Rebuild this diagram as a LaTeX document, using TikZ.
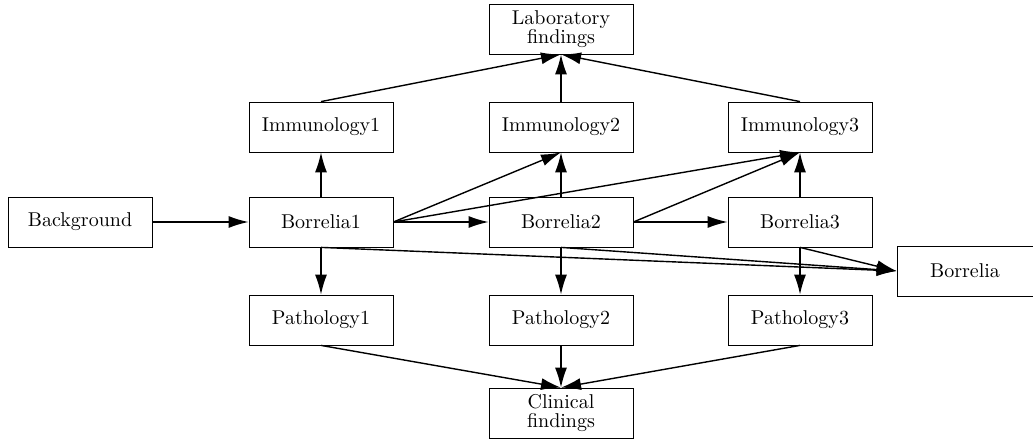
\documentclass[tikz,border=0pt]{standalone}
\usepackage{amsmath}
\usepackage{tikz}
\usetikzlibrary{arrows.meta}

\begin{document}
\begin{tikzpicture}[x=0.5pt, y=-0.5pt,
        box/.style={draw, rectangle, minimum width=72pt, minimum height=25pt, inner sep=0.5pt, align=center, font=\normalsize},
        edge/.style={-{Latex[length=10pt,width=6pt]}, line width=0.7pt}]
                \useasboundingbox (0,0) rectangle (1033,439);

                \node[box](Lab) at (561,29) {Laboratory\\[-2.5pt]findings};
                \node[box](Imm1) at (321,127) {Immunology1};
                \node[box](Imm2) at (561,127) {Immunology2};
                \node[box](Imm3) at (800,127) {Immunology3};
                \node[box](Back) at (80,222) {Background};
                \node[box](Bor1) at (321,222) {Borrelia1};
                \node[box](Bor2) at (561,222) {Borrelia2};
                \node[box](Bor3) at (800,222) {Borrelia3};
                \node[box, minimum width=68pt](Bor) at (965,271) {Borrelia};
                \node[box](Path1) at (321,320) {Pathology1};
                \node[box](Path2) at (561,320) {Pathology2};
                \node[box](Path3) at (800,320) {Pathology3};
                \node[box](Clin) at (561,413) {Clinical\\[-2.5pt]findings};

                                \draw[edge] (Back.east) -- (Bor1.west);
                                \draw[edge] (Bor1.east) -- (Bor2.west);
                                \draw[edge] (Bor2.east) -- (Bor3.west);

                                \draw[edge] (Bor1.north) -- (Imm1.south);
                                \draw[edge] (Bor2.north) -- (Imm2.south);
                                \draw[edge] (Bor3.north) -- (Imm3.south);
                                \draw[edge] (Bor1.east) -- (Imm2.south);
                                \draw[edge] (Bor1.east) -- (Imm3.south);
                                \draw[edge] (Bor2.east) -- (Imm3.south);

                                \draw[edge] (Imm1.north) -- (Lab.south);
                                \draw[edge] (Imm2.north) -- (Lab.south);
                                \draw[edge] (Imm3.north) -- (Lab.south);

                                \draw[edge] (Bor1.south) -- (Bor.west);
                                \draw[edge] (Bor2.south) -- (Bor.west);
                                \draw[edge] (Bor3.south) -- (Bor.west);

                                \draw[edge] (Bor1.south) -- (Path1.north);
                                \draw[edge] (Bor2.south) -- (Path2.north);
                                \draw[edge] (Bor3.south) -- (Path3.north);

                                \draw[edge] (Path1.south) -- (Clin.north);
                                \draw[edge] (Path2.south) -- (Clin.north);
                                \draw[edge] (Path3.south) -- (Clin.north);

        \end{tikzpicture}
\end{document}
